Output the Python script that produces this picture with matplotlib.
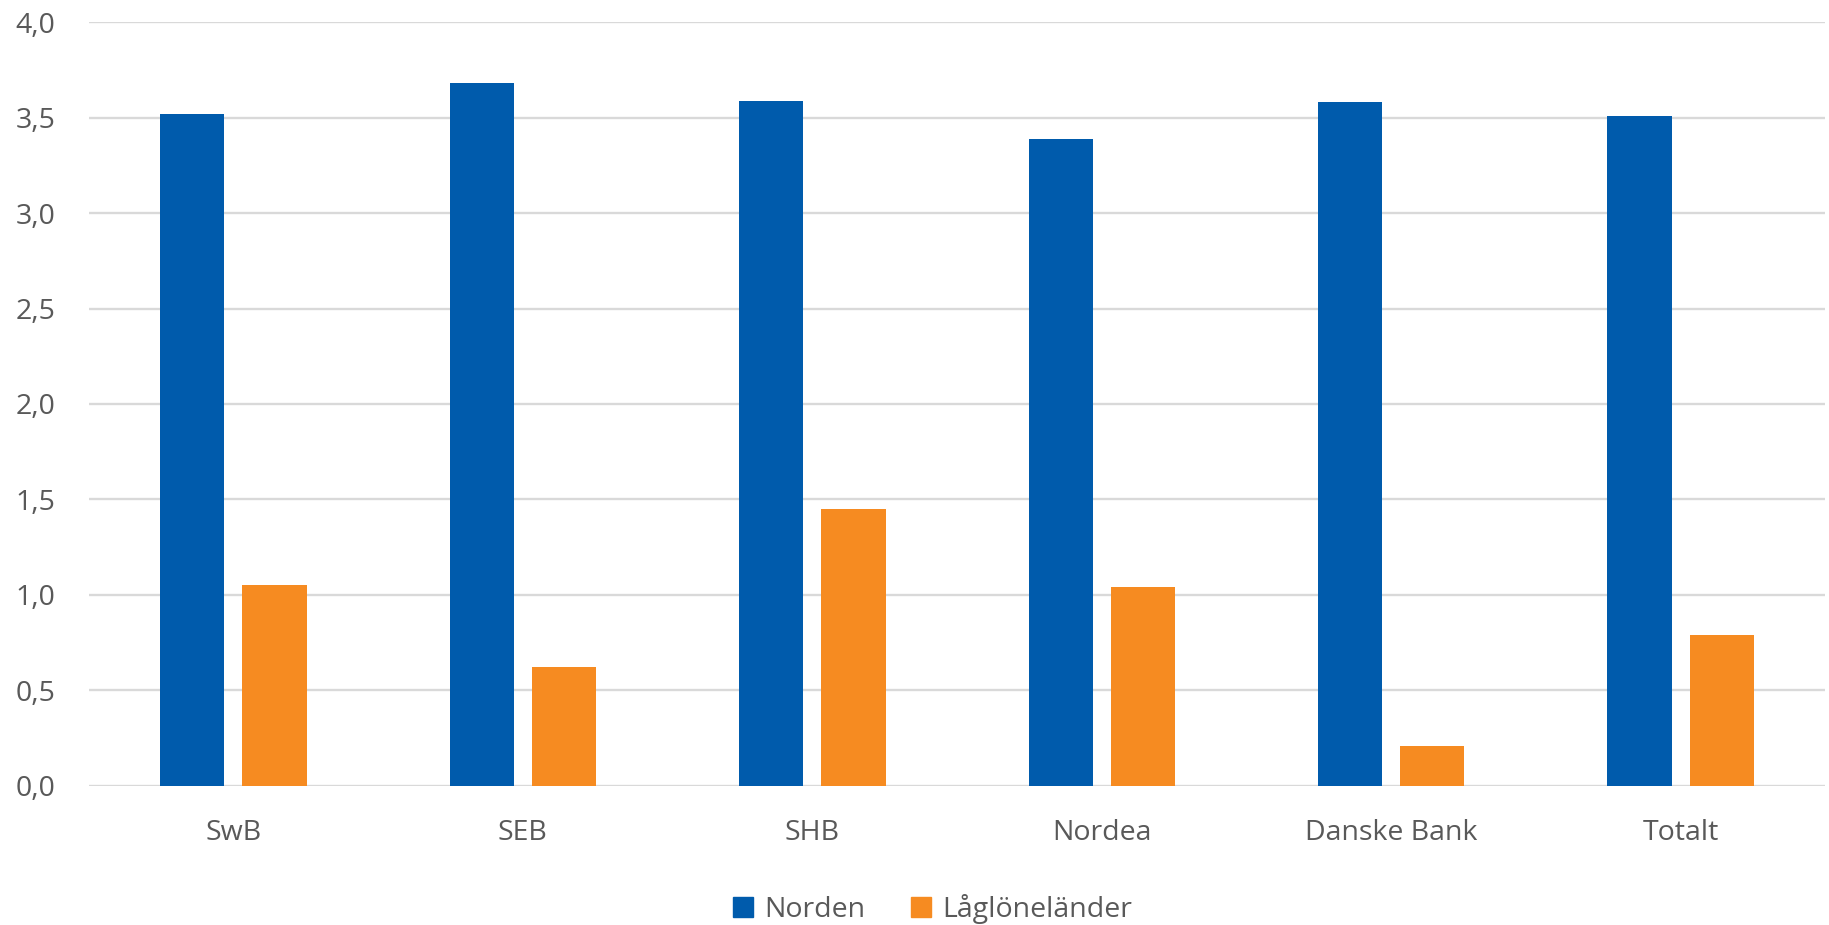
import numpy as np
from matplotlib import pyplot as plt
from matplotlib.patches import Patch

# data
banker = ['SwB', 'SEB', 'SHB', 'Nordea', 'Danske Bank', 'Totalt']
norden = [3.52, 3.68, 3.59, 3.39, 3.58, 3.51]
laglonelander = [1.05, 0.62, 1.45, 1.04, 0.21, 0.79]
serier = ['Norden', 'Låglöneländer']
yticks = [0.0, 0.5, 1.0, 1.5, 2.0, 2.5, 3.0, 3.5, 4.0]

blue = '#005BAC'
orange = '#F68B21'
textcol = '#595959'

plt.rcParams['font.family'] = ['Open Sans', 'DejaVu Sans']

fig = plt.figure(figsize=(18.29, 9.25), dpi=100)
ax = fig.add_axes([0.0485, 0.1506, 0.9495, 0.8253])

x = np.arange(len(banker))
w = 0.222
ax.bar(x - 0.142, norden, w, color=blue, zorder=3)
ax.bar(x + 0.142, laglonelander, w, color=orange, zorder=3)

ax.set_xlim(-0.5, len(banker) - 0.5)
ax.set_ylim(0, 4)
ax.set_yticks(yticks)
ax.set_yticklabels([f'{v:.1f}'.replace('.', ',') for v in yticks])
ax.set_xticks(x)
ax.set_xticklabels(banker)

ax.grid(axis='y', color='#d9d9d9', linewidth=1.7, zorder=0)
for s in ax.spines.values():
    s.set_visible(False)
ax.tick_params(axis='y', length=0, pad=24, labelsize=20.5, labelcolor=textcol)
ax.tick_params(axis='x', length=0, pad=24, labelsize=20.5, labelcolor=textcol)

handles = [Patch(color=blue), Patch(color=orange)]
fig.legend(handles, serier, loc='center', bbox_to_anchor=(0.51, 0.017), ncol=2,
           frameon=False, fontsize=20.5, labelcolor=textcol, handlelength=0.7,
           handleheight=0.7, handletextpad=0.4, columnspacing=1.6)

fig.savefig('out.png', dpi=100)
